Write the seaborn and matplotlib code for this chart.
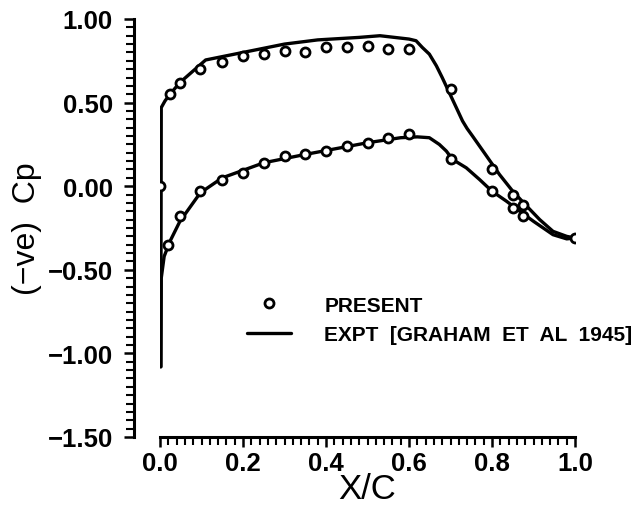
import matplotlib
matplotlib.use("Agg")
import matplotlib.pyplot as plt
from matplotlib.ticker import MultipleLocator, FuncFormatter
import pandas as pd
import seaborn as sns

expt_upper_x = [0.002, 0.003, 0.012, 0.024, 0.048, 0.11, 0.2, 0.3, 0.38, 0.48, 0.53,
                0.6, 0.617, 0.632, 0.649, 0.666, 0.68, 0.697, 0.714, 0.729, 0.74,
                0.753, 0.77, 0.787, 0.818, 0.85, 0.884, 0.915, 0.947, 0.98, 1.0]
expt_upper_y = [-1.08, 0.47, 0.51, 0.55, 0.62, 0.755, 0.80, 0.85, 0.875, 0.89, 0.90,
                0.88, 0.87, 0.83, 0.79, 0.72, 0.65, 0.56, 0.47, 0.39, 0.345,
                0.30, 0.24, 0.18, 0.07, -0.03, -0.12, -0.20, -0.27, -0.30, -0.31]
expt_lower_x = [0.002, 0.003, 0.01, 0.024, 0.048, 0.097, 0.15, 0.25, 0.35, 0.5, 0.58,
                0.62, 0.649, 0.673, 0.69, 0.705, 0.738, 0.77, 0.80, 0.835, 0.867,
                0.9, 0.947, 0.98, 1.0]
expt_lower_y = [-1.08, -0.55, -0.42, -0.33, -0.21, -0.04, 0.05, 0.14, 0.19, 0.26, 0.29,
                0.295, 0.29, 0.25, 0.21, 0.16, 0.11, 0.04, -0.03, -0.09, -0.15,
                -0.21, -0.29, -0.315, -0.31]

# present computation (open circles)
present_upper_x = [0.0, 0.024, 0.048, 0.097, 0.15, 0.2, 0.25, 0.3, 0.35, 0.4, 0.45, 0.5,
                   0.55, 0.6, 0.7, 0.8, 0.85, 0.874, 1.0]
present_upper_y = [0.0, 0.55, 0.62, 0.70, 0.74, 0.78, 0.79, 0.81, 0.80, 0.83, 0.83, 0.84,
                   0.82, 0.82, 0.58, 0.10, -0.05, -0.11, -0.31]
present_lower_x = [0.02, 0.048, 0.097, 0.15, 0.2, 0.25, 0.3, 0.35, 0.4, 0.45, 0.5, 0.55,
                   0.6, 0.7, 0.8, 0.85, 0.874]
present_lower_y = [-0.35, -0.18, -0.03, 0.04, 0.08, 0.14, 0.18, 0.19, 0.21, 0.24, 0.26,
                   0.29, 0.31, 0.16, -0.03, -0.13, -0.18]

sns.set_style("ticks")
plt.rcParams['font.family'] = ['Liberation Sans', 'DejaVu Sans']
plt.rcParams.update({"text.color": "black", "axes.labelcolor": "black",
                     "xtick.color": "black", "ytick.color": "black",
                     "axes.edgecolor": "black"})

upper_df = pd.DataFrame({"x": expt_upper_x, "cp": expt_upper_y})
lower_df = pd.DataFrame({"x": expt_lower_x, "cp": expt_lower_y})
present_df = pd.DataFrame({"x": present_upper_x + present_lower_x,
                           "cp": present_upper_y + present_lower_y})

fig = plt.figure(figsize=(6.39, 5.06), dpi=100)
ax = fig.add_axes([160 / 639, 68 / 506, 415 / 639, 418 / 506])

sns.lineplot(data=upper_df, x="x", y="cp", sort=False, color="black", lw=2.4, ax=ax,
             label="EXPT  [GRAHAM  ET  AL  1945]")
sns.lineplot(data=lower_df, x="x", y="cp", sort=False, color="black", lw=2.4, ax=ax)
ax.plot(present_df["x"], present_df["cp"], "o", mfc="white", mec="black", ms=6.5,
        mew=2.0, label="PRESENT", zorder=5)

ax.set_xlim(0, 1.0)
ax.set_ylim(-1.5, 1.0)
ax.xaxis.set_major_locator(MultipleLocator(0.2))
ax.xaxis.set_minor_locator(MultipleLocator(0.02))
ax.yaxis.set_major_locator(MultipleLocator(0.5))
ax.yaxis.set_minor_locator(MultipleLocator(0.05))
ax.xaxis.set_major_formatter(FuncFormatter(lambda v, p: "%.1f" % v))
ax.yaxis.set_major_formatter(FuncFormatter(
    lambda v, p: ("%.2f" % v).replace("-", "\u2212")))

sns.despine(ax=ax)
ax.spines["left"].set_position(("outward", 19))
ax.spines["left"].set_linewidth(2.2)
ax.spines["bottom"].set_linewidth(2.2)
ax.tick_params(which="major", length=7, width=1.8, labelsize=18.5)
ax.tick_params(axis="y", which="major", pad=8)
ax.tick_params(axis="x", which="major", pad=3)
ax.tick_params(which="minor", length=5.5, width=1.5)
for lab in ax.get_xticklabels() + ax.get_yticklabels():
    lab.set_fontweight("bold")

ax.set_xlabel("X/C", fontsize=25, labelpad=-2)
ax.set_ylabel("(\u2212ve)  Cp", fontsize=23, labelpad=4)

handles, labels = ax.get_legend_handles_labels()
order = [labels.index("PRESENT"), labels.index("EXPT  [GRAHAM  ET  AL  1945]")]
ax.legend([handles[i] for i in order], [labels[i] for i in order],
          frameon=False, loc="upper left", bbox_to_anchor=(0.19, 0.358),
          prop={"size": 15, "weight": "bold"}, handlelength=2.1,
          handletextpad=1.6, labelspacing=0.5, borderaxespad=0)

fig.savefig("out.png", dpi=100)
